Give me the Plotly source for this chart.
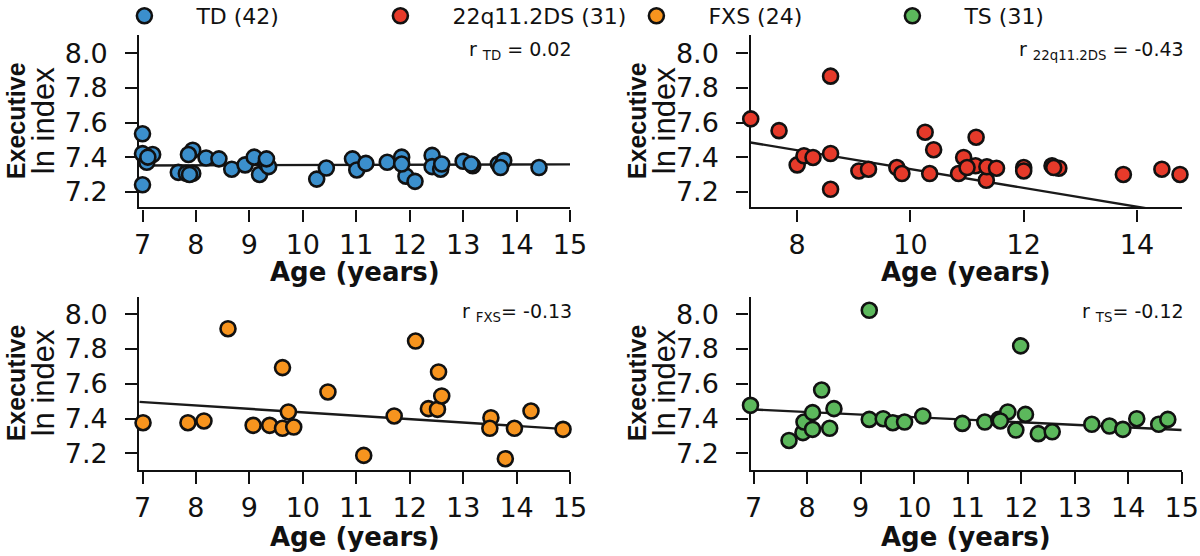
import numpy as np
import plotly.graph_objects as go

# ---------------- data ----------------
groups = ["TD (42)", "22q11.2DS (31)", "FXS (24)", "TS (31)"]
colors = ["#3b8fcc", "#e63a2a", "#f7941e", "#5cb85c"]

td_age = [7.0, 7.0, 7.08, 7.19, 7.0, 7.1,
          7.67, 7.82, 7.94, 7.94, 7.86, 7.88,
          8.19, 8.43, 8.67, 8.92, 9.09, 9.19, 9.31, 9.36, 9.32,
          10.26, 10.44, 10.93, 11.01, 11.18, 11.58, 11.85, 11.93, 12.10, 11.85,
          12.42, 12.42, 12.58, 12.6, 13.0, 13.18, 13.15, 13.66, 13.76, 13.7, 14.42]
td_val = [7.535, 7.42, 7.37, 7.415, 7.24, 7.40,
          7.312, 7.306, 7.306, 7.44, 7.415, 7.30,
          7.395, 7.39, 7.33, 7.355, 7.40, 7.30, 7.365, 7.345, 7.39,
          7.273, 7.337, 7.39, 7.326, 7.364, 7.37, 7.40, 7.29, 7.26, 7.36,
          7.41, 7.345, 7.33, 7.36, 7.376, 7.35, 7.36, 7.36, 7.38, 7.34, 7.34]

q22_age = [7.18, 7.68, 8.0, 8.12, 8.28, 8.59, 8.59, 8.59, 9.09, 9.26, 9.76, 9.85,
           10.26, 10.41, 10.34, 10.85, 10.94, 11.16, 11.15, 11.34, 11.35, 11.52, 11.0,
           12.0, 12.0, 12.5, 12.62, 13.76, 14.44, 14.76, 12.53]
q22_val = [7.621, 7.553, 7.355, 7.408, 7.398, 7.868, 7.421, 7.214, 7.32, 7.33, 7.34, 7.305,
           7.544, 7.443, 7.305, 7.305, 7.398, 7.515, 7.35, 7.266, 7.344, 7.336, 7.34,
           7.34, 7.32, 7.35, 7.336, 7.30, 7.33, 7.30, 7.34]

fxs_age = [7.01, 7.85, 8.15, 8.60, 9.07, 9.38, 9.62, 9.73, 9.62, 9.83, 10.47, 11.14,
           11.71, 12.11, 12.35, 12.54, 12.52, 12.60, 13.52, 13.50, 13.79, 13.96, 14.27, 14.87]
fxs_val = [7.376, 7.376, 7.386, 7.917, 7.361, 7.361, 7.693, 7.438, 7.344, 7.351, 7.553, 7.188,
           7.415, 7.846, 7.457, 7.668, 7.453, 7.53, 7.405, 7.344, 7.169, 7.344, 7.443, 7.338]

ts_age = [6.94, 7.66, 7.92, 7.94, 8.10, 8.10, 8.27, 8.42, 8.50, 9.16, 9.16, 9.42, 9.60, 9.82,
          10.16, 10.90, 11.32, 11.58, 11.75, 11.90, 11.99, 12.08, 12.32, 12.58, 13.32, 13.65,
          13.90, 14.16, 14.57, 14.74, 11.61]
ts_val = [7.476, 7.274, 7.319, 7.38, 7.338, 7.434, 7.564, 7.344, 7.457, 8.023, 7.395, 7.399,
          7.376, 7.38, 7.415, 7.372, 7.38, 7.395, 7.438, 7.334, 7.818, 7.424, 7.313, 7.324,
          7.367, 7.357, 7.338, 7.399, 7.367, 7.395, 7.386]

# fitted lines (intercept, slope) as drawn in the reference
fit_intercept = [7.3464, 7.875, 7.632, 7.5555]
fit_slope = [0.0008, -0.0544, -0.0196, -0.01476]

r_labels = ["r <sub>TD</sub> = 0.02", "r <sub>22q11.2DS</sub> = -0.43",
            "r <sub>FXS</sub>= -0.13", "r <sub>TS</sub>= -0.12"]

x_ranges = [[6.94, 15], [7.176, 14.79], [6.94, 15], [6.94, 15]]
y_ranges = [[7.11, 8.106], [7.11, 8.106], [7.104, 8.101], [7.104, 8.101]]
x_dticks = [1, 2, 1, 1]
y_ticks = [7.2, 7.4, 7.6, 7.8, 8.0]

ages = [td_age, q22_age, fxs_age, ts_age]
vals = [td_val, q22_val, fxs_val, ts_val]

# ---------------- layout geometry ----------------
W, H = 1200, 556
x_doms = [[139.3, 570.0], [750.5, 1181.7], [139.3, 570.0], [750.5, 1181.7]]
y_doms = [[35.0, 207.3], [35.0, 207.3], [296.7, 470.0], [296.7, 470.0]]
xtitle_y = [272, 272, 537, 537]

WIDE = "DejaVu Sans, Verdana, sans-serif"
NARROW = "Liberation Sans, Arial, Helvetica, sans-serif"
INK = "#111"

fig = go.Figure()
layout = dict(
    width=W, height=H,
    margin=dict(l=0, r=0, t=0, b=0, autoexpand=False),
    paper_bgcolor="white", plot_bgcolor="white",
    font=dict(family=WIDE, color=INK),
    showlegend=True,
    legend=dict(orientation="h", x=0.077, xanchor="left", y=1.009, yanchor="top",
                font=dict(size=22, family=WIDE, color=INK),
                itemwidth=94, entrywidth=147, entrywidthmode="pixels",
                bgcolor="rgba(0,0,0,0)", tracegroupgap=0),
)

annotations = []
for i in range(4):
    ax = "" if i == 0 else str(i + 1)
    xa, ya = "x" + ax, "y" + ax
    xd = [x_doms[i][0] / W, x_doms[i][1] / W]
    yd = [1 - y_doms[i][1] / H, 1 - y_doms[i][0] / H]
    common = dict(showline=True, linecolor=INK, linewidth=2.4, ticks="outside",
                  ticklen=12, tickwidth=2.4, tickcolor=INK, showgrid=False,
                  zeroline=False, layer="below traces", automargin=False,
                  tickfont=dict(size=27, family=WIDE, color=INK))
    layout["xaxis" + ax] = dict(domain=xd, range=x_ranges[i], anchor=ya,
                                dtick=x_dticks[i], tick0=0, **common)
    layout["yaxis" + ax] = dict(domain=yd, range=y_ranges[i], anchor=xa,
                                tickvals=y_ticks, ticktext=[f"{v:.1f}" for v in y_ticks],
                                ticklabelstandoff=12, **common)

    xs = np.array(x_ranges[i])
    ys = fit_intercept[i] + fit_slope[i] * xs
    fig.add_trace(go.Scatter(x=xs, y=ys, mode="lines", xaxis=xa, yaxis=ya,
                             line=dict(color="#1a1a1a", width=2.4),
                             showlegend=False, hoverinfo="skip"))
    fig.add_trace(go.Scatter(x=ages[i], y=vals[i], mode="markers", xaxis=xa, yaxis=ya,
                             name=groups[i], cliponaxis=False,
                             marker=dict(size=15, color=colors[i],
                                         line=dict(color=INK, width=2.6))))

    # correlation label
    annotations.append(dict(text=r_labels[i], xref="paper", yref="paper",
                            x=(x_doms[i][1] + 4) / W, y=1 - (y_doms[i][0] + 1) / H,
                            xanchor="right", yanchor="top", showarrow=False,
                            font=dict(size=19, family=WIDE, color=INK)))
    # x-axis title
    annotations.append(dict(text="<b>Age (years)</b>", xref="paper", yref="paper",
                            x=(x_doms[i][0] + x_doms[i][1]) / 2 / W,
                            y=1 - xtitle_y[i] / H, xanchor="center", yanchor="middle",
                            showarrow=False, font=dict(size=26, family=WIDE, color=INK)))
    # y-axis titles
    left = 16 if i in (0, 2) else 637
    cy = 1 - (y_doms[i][0] + y_doms[i][1]) / 2 / H
    annotations.append(dict(text="<b>Executive</b>", xref="paper", yref="paper",
                            x=left / W, y=cy, xanchor="center", yanchor="middle",
                            textangle=-90, showarrow=False,
                            font=dict(size=25, family=NARROW, color=INK)))
    annotations.append(dict(text="ln index", xref="paper", yref="paper",
                            x=(left + 27) / W, y=cy, xanchor="center", yanchor="middle",
                            textangle=-90, showarrow=False,
                            font=dict(size=31, family=NARROW, color=INK)))

layout["annotations"] = annotations
fig.update_layout(**layout)
fig.write_html("out.html", config={"displayModeBar": False},
               post_script="document.body.style.margin='0px';")
